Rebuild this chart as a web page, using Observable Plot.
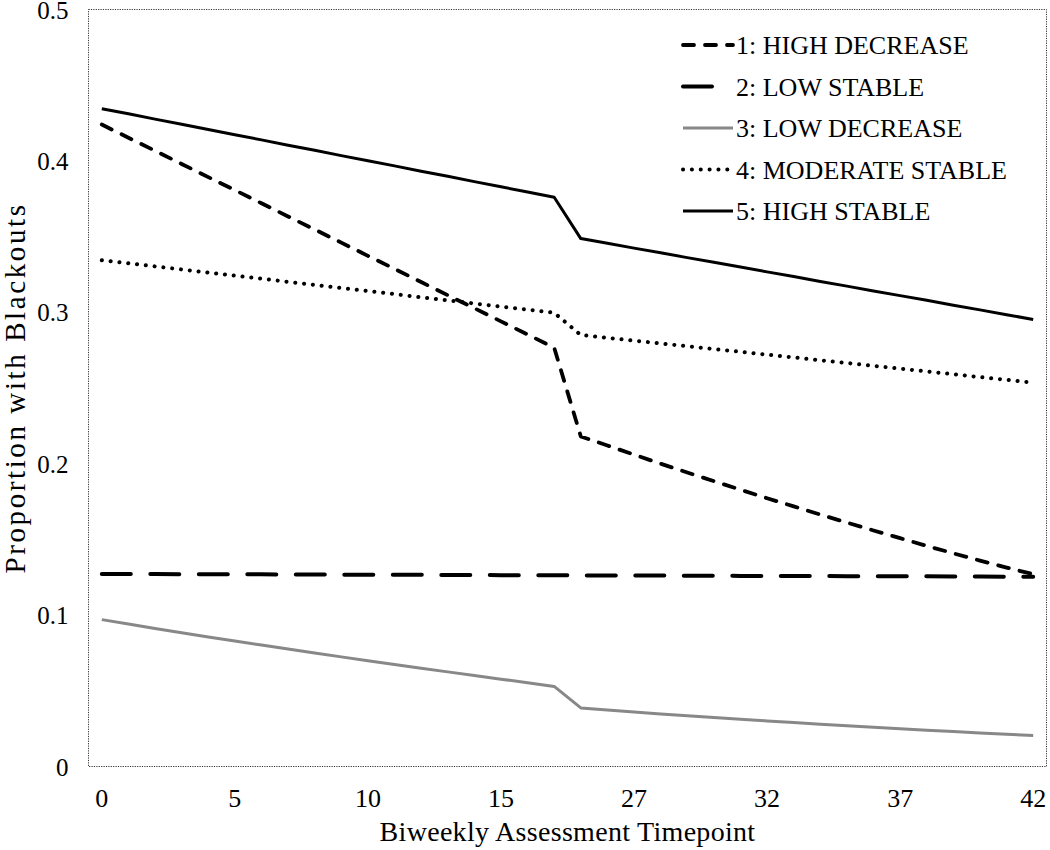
<!DOCTYPE html>
<html>
<head>
<meta charset="utf-8">
<script src="https://cdn.jsdelivr.net/npm/d3@7"></script>
<script src="https://cdn.jsdelivr.net/npm/@observablehq/plot@0.6"></script>
<style>
  html, body { margin: 0; padding: 0; background: #fff; }
  #wrap { position: relative; width: 1050px; height: 850px; }
  #legend { position: absolute; left: 0; top: 0; pointer-events: none; }
  svg text { font-family: "Liberation Serif", "Times New Roman", serif; fill: #000; }
</style>
</head>
<body>
<div id="wrap"></div>
<script>
// Biweekly assessment timepoints shown on the category axis (gap between 17 and 25)
const timepoints = [0,1,2,3,4,5,6,7,8,9,10,11,12,13,14,15,16,17,
                    25,26,27,28,29,30,31,32,33,34,35,36,37,38,39,40,41,42];
const xTicks = [0, 5, 10, 15, 27, 32, 37, 42];
const yTicks = [0, 0.1, 0.2, 0.3, 0.4, 0.5];

const seriesNames = ["1: HIGH DECREASE", "2: LOW STABLE", "3: LOW DECREASE", "4: MODERATE STABLE", "5: HIGH STABLE"];

const highDecrease = [0.4240,0.4153,0.4067,0.3980,0.3893,0.3807,0.3720,0.3633,0.3547,0.3460,0.3373,0.3287,0.3200,0.3113,0.3027,0.2940,0.2853,0.2766,
                      0.2180,0.2120,0.2060,0.2000,0.1942,0.1885,0.1828,0.1772,0.1718,0.1664,0.1611,0.1559,0.1508,0.1457,0.1408,0.1360,0.1314,0.1270];
const lowStable    = [0.1272,0.1271,0.1271,0.1270,0.1270,0.1269,0.1269,0.1268,0.1268,0.1267,0.1267,0.1266,0.1266,0.1265,0.1265,0.1264,0.1264,0.1263,
                      0.1262,0.1262,0.1261,0.1261,0.1260,0.1260,0.1259,0.1259,0.1258,0.1258,0.1257,0.1257,0.1256,0.1256,0.1255,0.1255,0.1254,0.1254];
const lowDecrease  = [0.0970,0.0941,0.0912,0.0884,0.0856,0.0829,0.0802,0.0776,0.0750,0.0724,0.0699,0.0674,0.0649,0.0625,0.0601,0.0577,0.0553,0.0529,
                      0.0387,0.0373,0.0360,0.0347,0.0335,0.0323,0.0312,0.0301,0.0290,0.0279,0.0269,0.0259,0.0249,0.0240,0.0231,0.0222,0.0213,0.0204];
const moderateStable = [0.3344,0.3324,0.3303,0.3283,0.3262,0.3242,0.3222,0.3201,0.3181,0.3160,0.3140,0.3120,0.3099,0.3079,0.3058,0.3038,0.3018,0.2997,
                        0.2850,0.2831,0.2813,0.2794,0.2776,0.2757,0.2739,0.2720,0.2702,0.2683,0.2665,0.2646,0.2628,0.2609,0.2591,0.2572,0.2554,0.2535];
const highStable   = [0.4345,0.4311,0.4276,0.4242,0.4207,0.4173,0.4139,0.4104,0.4070,0.4035,0.4001,0.3967,0.3932,0.3898,0.3863,0.3829,0.3794,0.3760,
                      0.3487,0.3456,0.3424,0.3393,0.3361,0.3330,0.3299,0.3267,0.3236,0.3204,0.3173,0.3141,0.3110,0.3079,0.3047,0.3016,0.2984,0.2953];

const seriesValues = [highDecrease, lowStable, lowDecrease, moderateStable, highStable];

// line styles per series
const styles = [
  {stroke: "#000", strokeWidth: 3.8, strokeDasharray: "11,11", strokeLinecap: "round"},
  {stroke: "#000", strokeWidth: 4, strokeDasharray: "29,19.5", strokeLinecap: "round"},
  {stroke: "#888", strokeWidth: 3, strokeDasharray: null, strokeLinecap: "butt"},
  {stroke: "#000", strokeWidth: 4, strokeDasharray: "0.1,8.75", strokeLinecap: "round"},
  {stroke: "#000", strokeWidth: 3, strokeDasharray: null, strokeLinecap: "butt"}
];

const W = 1050, H = 850;
const mL = 88, mR = 4, mT = 9, mB = 84;

const lineMarks = seriesNames.map((name, i) => {
  const rows = timepoints.map((t, j) => ({t, v: seriesValues[i][j], series: name}));
  const s = styles[i];
  const opts = {x: "t", y: "v", stroke: s.stroke, strokeWidth: s.strokeWidth, strokeLinecap: s.strokeLinecap, strokeLinejoin: "round"};
  if (s.strokeDasharray) opts.strokeDasharray = s.strokeDasharray;
  return Plot.line(rows, opts);
});

const chart = Plot.plot({
  width: W, height: H,
  marginLeft: mL, marginRight: mR, marginTop: mT, marginBottom: mB,
  style: {fontFamily: "Liberation Serif, Times New Roman, serif", fontSize: "26px", background: "#fff", color: "#000", overflow: "visible"},
  x: {type: "point", domain: timepoints, padding: 0.5, round: false},
  y: {domain: [0, 0.5]},
  marks: [
    Plot.frame({stroke: "#333", strokeDasharray: "1.2,1.2", strokeWidth: 1}),
    Plot.axisX({ticks: xTicks, tickSize: 0, tickPadding: 22, label: "Biweekly Assessment Timepoint", labelAnchor: "center", labelOffset: 74, labelArrow: "none", fontSize: 26}),
    Plot.axisY({ticks: yTicks, tickSize: 0, tickPadding: 20, tickFormat: d => String(d), label: "Proportion with Blackouts", labelAnchor: "center", labelOffset: 84, labelArrow: "none", fontSize: 25, dy: 1}),
    ...lineMarks
  ]
});

const wrap = document.getElementById("wrap");
wrap.appendChild(chart);

// axis titles slightly larger, as in the reference
d3.select(chart).selectAll('g[aria-label="x-axis label"] text').style("font-size", "28px").style("letter-spacing", "0.3px");
d3.select(chart).selectAll('g[aria-label="y-axis label"] text').style("font-size", "29px").style("letter-spacing", "2.6px");

// legend overlay in the top-right of the plot
const legend = d3.select(wrap).append("svg")
  .attr("id", "legend").attr("width", W).attr("height", H);
const lx0 = 683, lx1 = 733, tx = 736, ly0 = 45, dy = 41.5;
const swatchEnd = [lx1, lx0 + 31, lx1, lx1, lx1];
seriesNames.forEach((name, i) => {
  const s = styles[i];
  const y = ly0 + i * dy;
  const ln = legend.append("line")
    .attr("x1", lx0).attr("x2", swatchEnd[i]).attr("y1", y).attr("y2", y)
    .attr("stroke", s.stroke).attr("stroke-width", s.strokeWidth)
    .attr("stroke-linecap", s.strokeLinecap);
  if (s.strokeDasharray) ln.attr("stroke-dasharray", s.strokeDasharray);
  legend.append("text")
    .attr("x", tx).attr("y", y).attr("dy", "0.35em")
    .style("font-size", "26px")
    .text(name);
});
</script>
</body>
</html>
